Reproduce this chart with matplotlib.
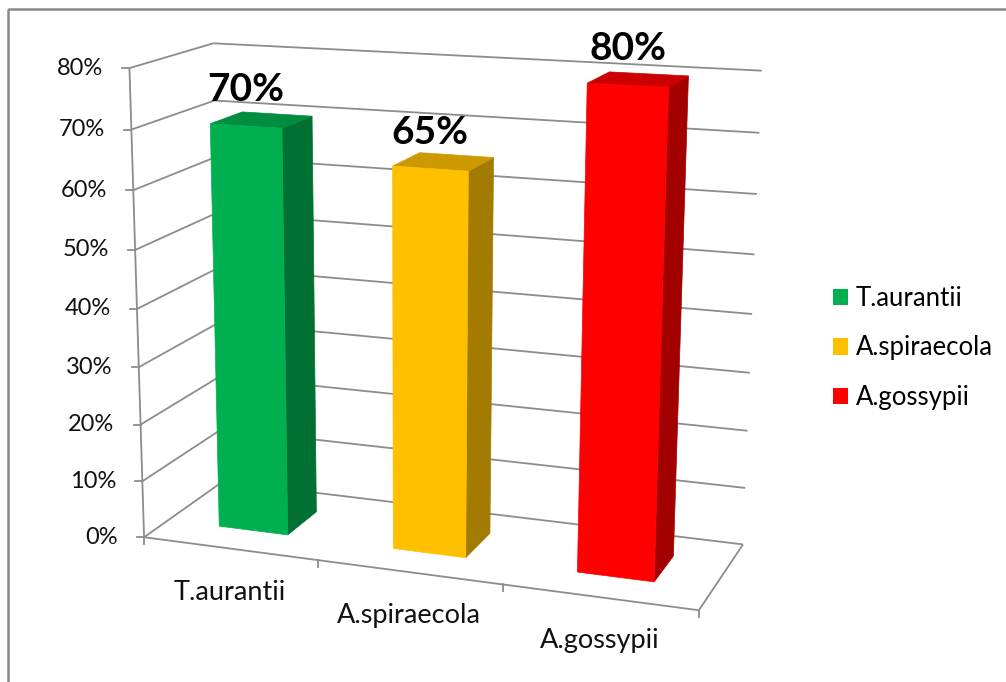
import numpy as np
import matplotlib.pyplot as plt
from matplotlib.patches import Polygon, Rectangle, Patch
from matplotlib.colors import to_rgb

species = ['T.aurantii', 'A.spiraecola', 'A.gossypii']
rates = [0.70, 0.65, 0.80]
bar_colors = ['#00B050', '#FFC000', '#FF0000']
value_ticks = [0.0, 0.1, 0.2, 0.3, 0.4, 0.5, 0.6, 0.7, 0.8]
tick_labels = ['0%', '10%', '20%', '30%', '40%', '50%', '60%', '70%', '80%']

plt.rcParams['font.family'] = ['Lato', 'DejaVu Sans']

W, H = 1006, 682
GRID = '#8c8c8c'

# 3d box corners (category, value, depth) and where they sit on the canvas,
# used to solve a perspective camera for the whole plot
box_3d = [(0, 0, 0), (0, 0.1, 0), (0, 0.2, 0), (0, 0.7, 0), (0, 0.8, 0),
          (1, 0, 0), (1 / 3, 0, 0), (2 / 3, 0, 0),
          (0, 0.8, 1), (0, 0.7, 1), (0, 0, 1),
          (1, 0.8, 1), (1, 0.7, 1), (1, 0.1, 1), (1, 0, 1)]
box_px = [(146, 536), (143, 480), (141, 423), (130, 130), (128, 68),
          (698, 612), (319, 561), (503, 586),
          (215, 43), (215, 101), (220, 484),
          (762, 71), (759, 133), (746, 486), (743, 543)]


def fit_camera(p3, p2):
    rows = []
    for (X, Y, Z), (u, v) in zip(p3, p2):
        u, v = u / 1000, v / 1000
        P = [X, Y, Z, 1.0]
        rows.append(P + [0, 0, 0, 0] + [-u * c for c in P])
        rows.append([0, 0, 0, 0] + P + [-v * c for c in P])
    _, _, vt = np.linalg.svd(np.array(rows))
    return vt[-1].reshape(3, 4)


CAM = fit_camera(box_3d, box_px)


def proj(X, Y, Z):
    p = CAM @ np.array([X, Y, Z, 1.0])
    return p[0] / p[2] * 1000, p[1] / p[2] * 1000


def line3d(ax, a, b, **kw):
    (x0, y0), (x1, y1) = proj(*a), proj(*b)
    ax.plot([x0, x1], [y0, y1], color=GRID, lw=1.3, solid_capstyle='butt',
            zorder=1, **kw)


def shade(c, k):
    r, g, b = to_rgb(c)
    return (r * k, g * k, b * k)


fig = plt.figure(figsize=(W / 100, H / 100), dpi=100)
ax = fig.add_axes([0, 0, 1, 1])
ax.set_xlim(0, W)
ax.set_ylim(H, 0)
ax.axis('off')

# chart border
ax.add_patch(Rectangle((8, 9), W + 20, H + 20, fill=False, ec='#888888', lw=1.8))

ymax = value_ticks[-1]

# side wall and back wall gridlines
for t in value_ticks:
    line3d(ax, (0, t, 0), (0, t, 1))
    line3d(ax, (0, t, 1), (1, t, 1))

# value axis with ticks and labels
line3d(ax, (0, 0, 0), (0, ymax, 0))
for t, lab in zip(value_ticks, tick_labels):
    x, y = proj(0, t, 0)
    ax.plot([x - 7, x], [y, y], color=GRID, lw=1.3)
    ax.text(x - 26, y, lab, ha='right', va='center', fontsize=17, color='#111111')

# floor front edge (category axis) and right edge
line3d(ax, (0, 0, 0), (1, 0, 0))
line3d(ax, (1, 0, 0), (1, 0, 1))
n = len(species)
for k in range(n + 1):
    x, y = proj(k / n, 0, 0)
    ax.plot([x, x], [y, y + 7], color=GRID, lw=1.3)
for i, name in enumerate(species):
    x, y = proj((i + 0.5) / n, 0, 0)
    ax.text(x, y + 51, name, ha='center', va='baseline', fontsize=19.5, color='#111111')

# 3d columns
bar_w = (1 / n) / 2.5
z0, z1 = 0.3, 0.7
for i, (v, c) in enumerate(zip(rates, bar_colors)):
    xc = (i + 0.5) / n
    x0, x1 = xc - bar_w / 2, xc + bar_w / 2
    front = [(x0, 0, z0), (x1, 0, z0), (x1, v, z0), (x0, v, z0)]
    top = [(x0, v, z0), (x1, v, z0), (x1, v, z1), (x0, v, z1)]
    side = [(x1, 0, z0), (x1, 0, z1), (x1, v, z1), (x1, v, z0)]
    for face, k in [(side, 0.64), (top, 0.8), (front, 1.0)]:
        ax.add_patch(Polygon([proj(*p) for p in face], closed=True,
                             fc=shade(c, k), ec=shade(c, k), lw=0.5, zorder=3))
    lx, ly = proj(xc, v, z0)
    ax.text(lx, ly - 25, f'{v:.0%}', ha='center', va='baseline',
            fontsize=28, fontweight='bold', color='black', zorder=4)

handles = [Patch(facecolor=c, edgecolor='none') for c in bar_colors]
ax.legend(handles, species, loc='upper left', bbox_to_anchor=(833 / W, 1 - 286 / H),
          frameon=False, fontsize=18.5, handlelength=0.6, handleheight=0.6,
          handletextpad=0.3, labelspacing=0.95, borderpad=0, borderaxespad=0)

fig.savefig('out.png', dpi=100)
